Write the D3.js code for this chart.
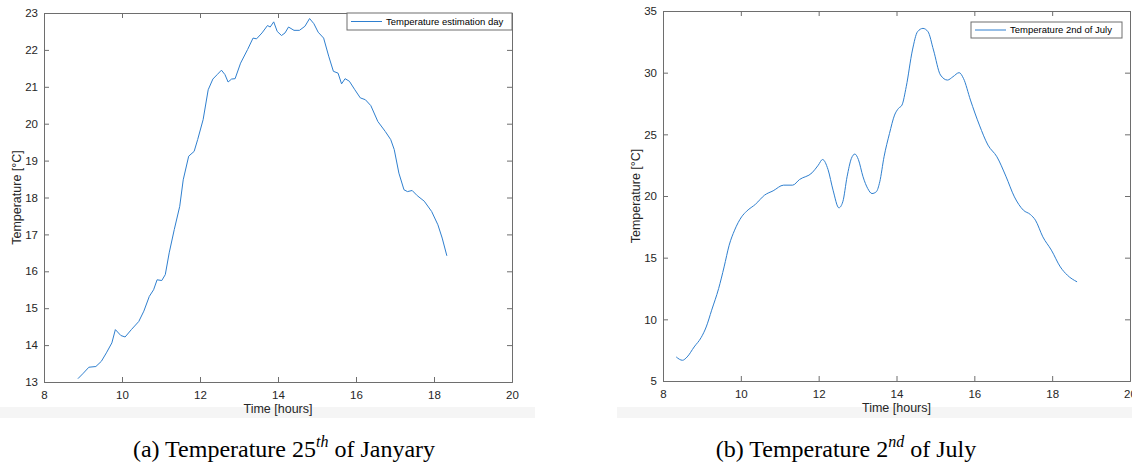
<!DOCTYPE html>
<html><head><meta charset="utf-8">
<script src="https://cdn.jsdelivr.net/npm/d3@7"></script>
<style>body{margin:0;background:#fff;} svg{display:block;}</style>
</head><body>
<svg id="c" width="1132" height="464"></svg>
<script>
// ---- Data ----
const janHours = [8.87,9.01,9.15,9.33,9.47,9.60,9.74,9.83,9.97,10.08,10.24,10.43,10.56,10.70,10.81,10.90,11.02,11.11,11.21,11.34,11.48,11.57,11.71,11.85,11.94,12.08,12.21,12.33,12.44,12.55,12.64,12.72,12.81,12.90,13.04,13.22,13.36,13.45,13.59,13.73,13.80,13.89,13.98,14.09,14.18,14.27,14.41,14.55,14.69,14.81,14.92,15.03,15.17,15.30,15.42,15.54,15.63,15.72,15.83,15.97,16.11,16.24,16.38,16.56,16.75,16.89,16.98,17.10,17.23,17.32,17.44,17.57,17.75,17.94,18.10,18.21,18.33];
const janTemp  = [13.09,13.24,13.40,13.42,13.56,13.79,14.06,14.42,14.26,14.22,14.42,14.64,14.92,15.32,15.50,15.77,15.75,15.91,16.50,17.13,17.76,18.48,19.12,19.25,19.57,20.11,20.92,21.21,21.33,21.45,21.33,21.13,21.21,21.22,21.64,22.01,22.32,22.30,22.46,22.66,22.62,22.76,22.50,22.39,22.46,22.62,22.53,22.53,22.64,22.85,22.71,22.48,22.32,21.83,21.42,21.37,21.08,21.22,21.15,20.92,20.70,20.65,20.49,20.06,19.79,19.57,19.30,18.66,18.21,18.16,18.19,18.05,17.90,17.62,17.26,16.90,16.42];
const julHours = [8.34,8.50,8.62,8.80,8.98,9.11,9.25,9.43,9.57,9.70,9.84,10.02,10.15,10.38,10.61,10.83,11.10,11.33,11.51,11.83,11.99,12.10,12.24,12.37,12.52,12.62,12.73,12.84,12.93,13.02,13.14,13.26,13.37,13.48,13.57,13.68,13.82,13.95,14.05,14.14,14.25,14.41,14.54,14.68,14.81,14.95,15.13,15.31,15.45,15.61,15.72,15.90,16.13,16.35,16.58,16.81,17.03,17.26,17.44,17.57,17.76,17.98,18.21,18.39,18.64];
const julTemp  = [6.95,6.68,6.95,7.76,8.52,9.38,10.74,12.50,14.25,16.01,17.23,18.31,18.77,19.34,20.07,20.42,20.88,20.88,21.34,21.88,22.50,22.96,22.15,20.47,19.04,19.53,21.56,23.04,23.40,22.96,21.56,20.61,20.20,20.34,21.15,23.18,25.07,26.56,27.10,27.37,28.86,31.84,33.32,33.59,33.32,31.84,29.81,29.40,29.67,30.00,29.54,27.78,25.75,24.13,23.18,21.61,19.93,18.85,18.50,18.04,16.69,15.61,14.25,13.58,13.04];
const xTicks = [8,10,12,14,16,18,20];
const janYTicks = [13,14,15,16,17,18,19,20,21,22,23];
const julYTicks = [5,10,15,20,25,30,35];
const janLegend = "Temperature estimation day";
const julLegend = "Temperature 2nd of July";
const xLabel = "Time [hours]";
const yLabel = "Temperature [°C]";

const svg = d3.select("#c");
const LINE = "#2f7fcf", AX = "#6e6e6e", TXT = "#262626";
const FONT = "'Liberation Sans', Arial, sans-serif";

// light gray strips under the figure images
svg.append("rect").attr("x",0).attr("y",407).attr("width",535).attr("height",11).attr("fill","#f5f5f5");
svg.append("rect").attr("x",617).attr("y",407).attr("width",515).attr("height",11).attr("fill","#f5f5f5");

function panel(cfg){
  const x = d3.scaleLinear().domain([8,20]).range([cfg.x0,cfg.x1]);
  const y = d3.scaleLinear().domain(cfg.ydom).range([cfg.y1,cfg.y0]);
  const g = svg.append("g");
  const tl = 5;
  const bottom = g.append("g").attr("transform",`translate(0,${cfg.y1})`)
    .call(d3.axisBottom(x).tickValues(xTicks).tickSize(-tl).tickPadding(9).tickFormat(d3.format("d")));
  const top = g.append("g").attr("transform",`translate(0,${cfg.y0})`)
    .call(d3.axisTop(x).tickValues(xTicks).tickSize(-tl).tickFormat(""));
  const left = g.append("g").attr("transform",`translate(${cfg.x0},0)`)
    .call(d3.axisLeft(y).tickValues(cfg.yticks).tickSize(-tl).tickPadding(6).tickFormat(d3.format("d")));
  const right = g.append("g").attr("transform",`translate(${cfg.x1},0)`)
    .call(d3.axisRight(y).tickValues(cfg.yticks).tickSize(-tl).tickFormat(""));
  [bottom,top,left,right].forEach(a=>{
    a.select(".domain").attr("stroke",AX).attr("stroke-width",1);
    a.selectAll(".tick line").attr("stroke",AX);
    a.selectAll("text").attr("fill",TXT).attr("font-family",FONT).attr("font-size",11.5);
  });
  g.append("path").datum(d3.zip(cfg.hours,cfg.temps))
    .attr("fill","none").attr("stroke",LINE).attr("stroke-width",1)
    .attr("d",d3.line().x(d=>x(d[0])).y(d=>y(d[1])).curve(cfg.curve));
  g.append("text").attr("x",(cfg.x0+cfg.x1)/2).attr("y",cfg.y1+31)
    .attr("text-anchor","middle").attr("font-family",FONT).attr("font-size",12.5).attr("fill",TXT).text(xLabel);
  g.append("text").attr("transform",`translate(${cfg.ylx},${(cfg.y0+cfg.y1)/2}) rotate(-90)`)
    .attr("text-anchor","middle").attr("font-family",FONT).attr("font-size",12.5).attr("fill",TXT).text(yLabel);
  const L = cfg.leg;
  g.append("rect").attr("x",L.x).attr("y",L.y).attr("width",L.w).attr("height",L.h)
    .attr("fill","#fff").attr("stroke",AX).attr("stroke-width",1);
  g.append("line").attr("x1",L.x+4).attr("x2",L.x+35).attr("y1",L.y+L.h/2).attr("y2",L.y+L.h/2)
    .attr("stroke",LINE).attr("stroke-width",1);
  g.append("text").attr("x",L.x+39).attr("y",L.y+L.h/2).attr("dy","0.35em")
    .attr("font-family",FONT).attr("font-size",9.5).attr("fill","#000").text(L.text);
}

panel({x0:44,x1:512,y0:13,y1:382,ydom:[13,23],yticks:janYTicks,hours:janHours,temps:janTemp,
  curve:d3.curveLinear,ylx:21,leg:{x:347,y:13,w:165,h:17,text:janLegend}});
panel({x0:663,x1:1130,y0:11,y1:381,ydom:[5,35],yticks:julYTicks,hours:julHours,temps:julTemp,
  curve:d3.curveMonotoneX,ylx:640,leg:{x:971,y:22,w:151,h:16,text:julLegend}});

function caption(cx, pre, sup, post){
  const t = svg.append("text").attr("x",cx).attr("y",457).attr("text-anchor","middle")
    .attr("font-family","'Liberation Serif','DejaVu Serif',serif").attr("font-size",24).attr("fill","#000");
  t.append("tspan").text(pre);
  t.append("tspan").attr("font-size",16).attr("font-style","italic").attr("dy",-10).text(sup);
  t.append("tspan").attr("dy",10).text(post);
}
caption(284,"(a) Temperature 25","th"," of Janyary");
caption(846,"(b) Temperature 2","nd"," of July");
</script>
</body></html>
